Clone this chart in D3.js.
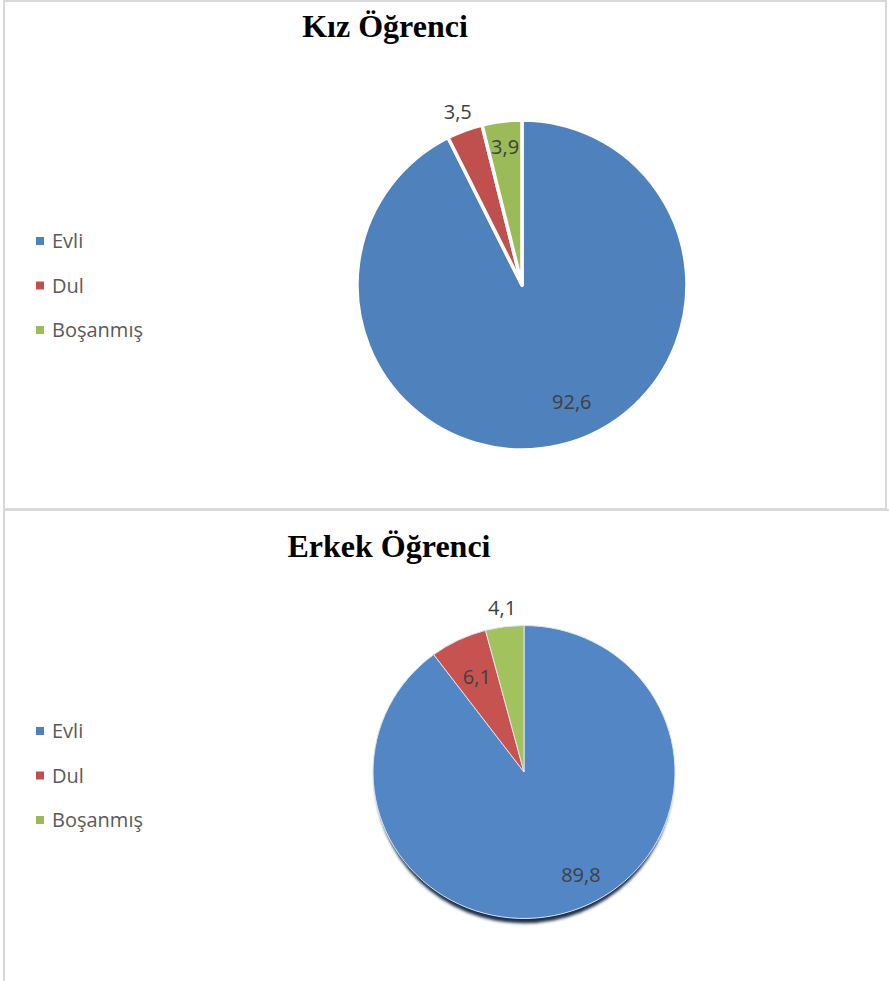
<!DOCTYPE html>
<html><head><meta charset="utf-8">
<script src="https://cdn.jsdelivr.net/npm/d3@7"></script>
<style>html,body{margin:0;padding:0;background:#fff;}svg{display:block;}</style>
</head><body>
<svg id="c" width="889" height="981"></svg>
<script>
const categories = ["Evli", "Dul", "Boşanmış"];
const colors = ["#4F81BD", "#C0504D", "#9BBB59"];
const titles = ["Kız Öğrenci", "Erkek Öğrenci"];
const kizValues = [92.6, 3.5, 3.9];
const erkekValues = [89.8, 6.1, 4.1];
const valueLabels = [["92,6", "3,5", "3,9"], ["89,8", "6,1", "4,1"]];

const svg = d3.select("#c");
const defs = svg.append("defs");

// frames
svg.append("rect").attr("x", 4).attr("y", 1).attr("width", 882).attr("height", 508)
  .attr("fill", "none").attr("stroke", "#d9d9d9").attr("stroke-width", 2);
svg.append("path").attr("d", "M4,510 L889,510 M4,510 L4,981")
  .attr("fill", "none").attr("stroke", "#d9d9d9").attr("stroke-width", 2);

// gradients & shadow for the 3D-ish lower chart
colors.forEach((c, i) => {
  const g = defs.append("linearGradient").attr("id", "grad" + i)
    .attr("gradientUnits", "userSpaceOnUse")
    .attr("x1", 373).attr("y1", 720).attr("x2", 675).attr("y2", 820);
  g.append("stop").attr("offset", 0).attr("stop-color", d3.color(c).brighter(0.1));
  g.append("stop").attr("offset", 1).attr("stop-color", d3.color(c).darker(0.1));
});
const f = defs.append("filter").attr("id", "blur").attr("x", "-10%").attr("y", "-10%").attr("width", "120%").attr("height", "120%");
f.append("feGaussianBlur").attr("stdDeviation", 1.5);

const pie = d3.pie().sort(null).value(d => d);

const charts = [
  { values: kizValues, cx: 522, cy: 285, r: 165, sy: 1, titleX: 385, titleY: 37, legendY: 241, fancy: false,
    labelOut: 1.12 },
  { values: erkekValues, cx: 524, cy: 772, r: 151, sy: 0.97, titleX: 389, titleY: 557, legendY: 731, fancy: true,
    labelOut: 1.13 }
];

charts.forEach((ch, ci) => {
  const g = svg.append("g").attr("transform", `translate(${ch.cx},${ch.cy})`);
  const pg = g.append("g").attr("transform", `scale(1,${ch.sy})`);
  const arcs = pie(ch.values);
  const arc = d3.arc().innerRadius(0).outerRadius(ch.r);

  if (ch.fancy) {
    pg.append("ellipse").attr("cx", 0).attr("cy", 6).attr("rx", ch.r - 2).attr("ry", ch.r - 1)
      .attr("fill", "#1a2e4a").attr("filter", "url(#blur)");
  }

  pg.selectAll("path.s").data(arcs).join("path").attr("class", "s")
    .attr("d", arc)
    .attr("fill", (d, i) => ch.fancy ? `url(#grad${i})` : colors[i])
    .attr("stroke", ch.fancy ? "#dfe6f0" : "#fff")
    .attr("stroke-width", ch.fancy ? 1 : 3.5)
    .attr("stroke-linejoin", "round");

  // data labels
  arcs.forEach((d, i) => {
    let a = (d.startAngle + d.endAngle) / 2;
    const frac = (d.endAngle - d.startAngle) / (2 * Math.PI);
    let rr;
    if (frac > 0.5) { a -= 0.17; rr = ch.r * (ci === 0 ? 0.77 : 0.8); }
    else if (ci === 0 && i === 1) rr = ch.r * ch.labelOut;
    else if (ci === 1 && i === 2) rr = ch.r * ch.labelOut;
    else rr = ch.r * (ci === 0 ? 0.84 : 0.72);
    const x = Math.sin(a) * rr, y = -Math.cos(a) * rr * ch.sy;
    g.append("text").attr("x", x).attr("y", y).attr("dy", "0.35em")
      .attr("text-anchor", "middle")
      .attr("font-family", "'Open Sans', 'Noto Sans', sans-serif")
      .attr("font-size", 20).attr("fill", "#404040")
      .text(valueLabels[ci][i]);
  });

  // title
  svg.append("text").attr("x", ch.titleX).attr("y", ch.titleY)
    .attr("text-anchor", "middle")
    .attr("font-family", "'Liberation Serif', 'Times New Roman', serif")
    .attr("font-weight", "bold").attr("font-size", 32).attr("fill", "#000")
    .text(titles[ci]);

  // legend
  const ly = d3.scalePoint().domain(categories).range([ch.legendY, ch.legendY + 89]);
  const lg = svg.append("g");
  categories.forEach((c, i) => {
    lg.append("rect").attr("x", 36).attr("y", ly(c) - 4).attr("width", 8).attr("height", 8).attr("fill", colors[i]);
    lg.append("text").attr("x", 52).attr("y", ly(c)).attr("dy", "0.35em")
      .attr("font-family", "'Open Sans', 'Noto Sans', sans-serif")
      .attr("font-size", 20).attr("fill", "#595959").text(c);
  });
});
</script>
</body></html>
